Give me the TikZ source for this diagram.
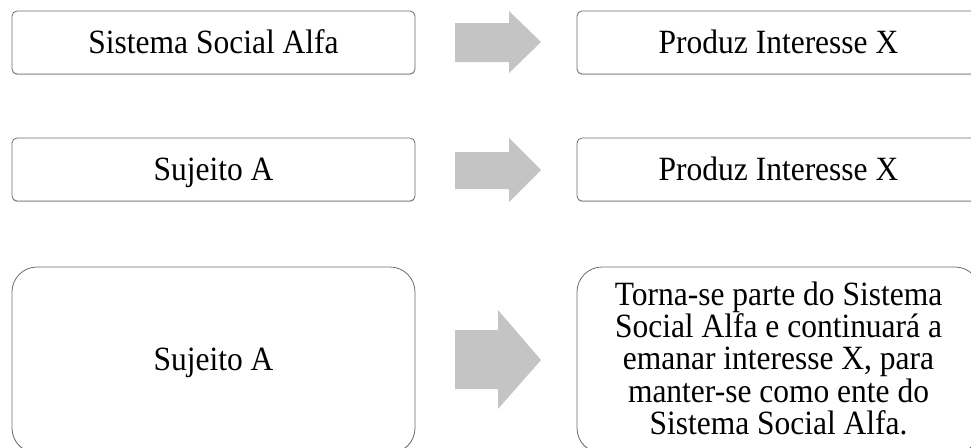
\documentclass[tikz,border=0pt]{standalone}
\usepackage{fontspec}
\setmainfont{Liberation Serif}[FakeStretch=0.926]
\usetikzlibrary{positioning}
\usetikzlibrary{shadows}
\definecolor{boxline}{HTML}{6E6E6E}
\definecolor{arrowgray}{HTML}{C4C4C4}
\tikzset{
  etapa/.style={draw=boxline,fill=white,line width=0.8pt,rounded corners=5pt,
    minimum width=403pt,minimum height=63pt,
    font=\fontsize{34}{32.3}\selectfont,text height=23.5pt,text depth=2.5pt,
    drop shadow={shadow xshift=0pt,shadow yshift=-1.2pt,opacity=0.35}},
  etapagrande/.style={etapa,rounded corners=25pt,minimum height=186pt,align=center},
  seta/.style={fill=arrowgray,draw=none}
}
\begin{document}
\begin{tikzpicture}[x=1pt,y=-1pt]
\clip (0,0) rectangle (971,447);
\node[etapa] (sistema) at (213.5,42.5) {Sistema Social Alfa};
\node[etapa] (produzA) at (778.5,42.5) {Produz Interesse X};
\node[etapa] (sujeitoA) at (213.5,169.5) {Sujeito A};
\node[etapa] (produzB) at (778.5,169.5) {Produz Interesse X};
\node[etapagrande] (sujeitoB) at (213.5,360) {Sujeito A};
\node[etapagrande,text height=,text depth=4pt] (torna) at (778.5,360) {Torna-se parte do Sistema\\
Social Alfa e continuará a\\
emanar interesse X, para\\
manter-se como ente do\\
Sistema Social Alfa.};

\fill[seta] (455,23) -- (509,23) -- (509,11) -- (541,42) -- (509,73) -- (509,62) -- (455,62) -- cycle;
\fill[seta] (455,152) -- (509,152) -- (509,138) -- (541,170) -- (509,202) -- (509,189) -- (455,189) -- cycle;
\fill[seta] (455,330) -- (498,330) -- (498,310) -- (541,360) -- (498,409) -- (498,389) -- (455,389) -- cycle;

\end{tikzpicture}
\end{document}
